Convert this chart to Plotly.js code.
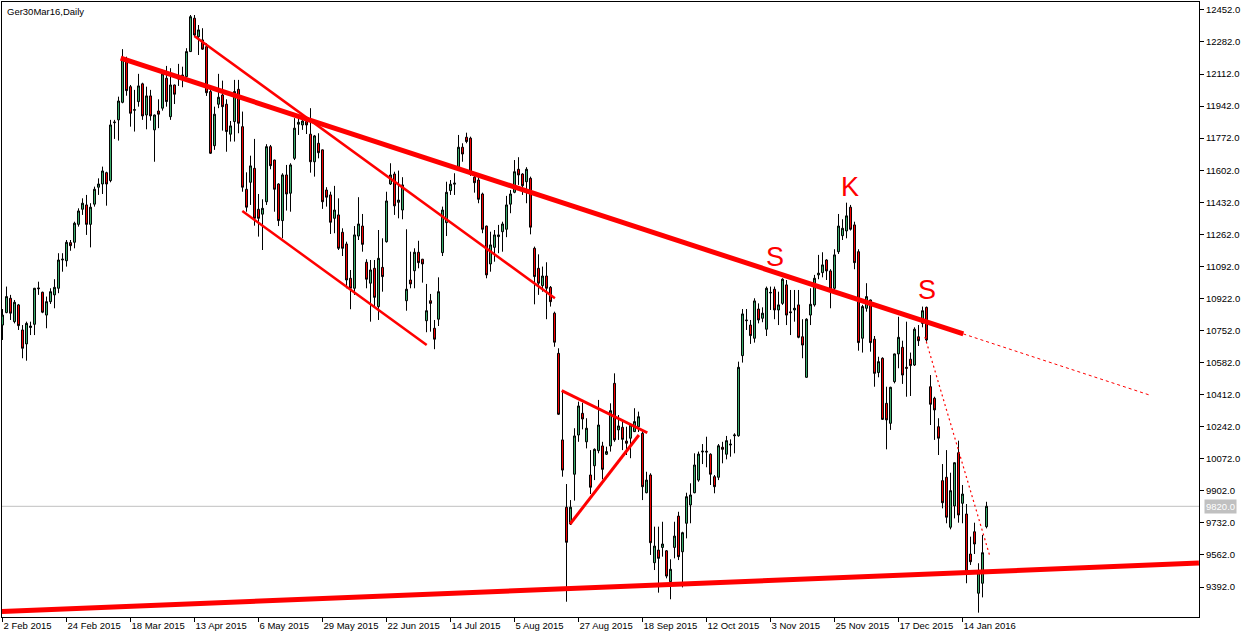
<!DOCTYPE html>
<html>
<head>
<meta charset="utf-8">
<script src="https://cdn.plot.ly/plotly-3.0.1.min.js"></script>
<style>html,body{margin:0;padding:0;background:#fff;}#chart{width:1247px;height:639px;}</style>
</head>
<body>
<div id="chart"></div>
<script>
// Ger30Mar16, Daily — OHLC per trading bar (index 0 = 2 Feb 2015)
const opens = [
10781,10847,10923,10799,10888,10755,10681,10768,10785,10978,
10955,10834,10905,10941,10976,11126,11122,11218,11220,11315,
11395,11418,11315,11422,11512,11529,11589,11547,11854,11869,
11962,12178,12045,11920,11966,12060,11895,11996,11816,11916,
11931,12090,11886,12054,12086,12098,12098,12231,12408,12310,
12293,12257,12019,11732,11952,12001,11952,11793,11860,12031,
11833,11501,11538,11612,11395,11369,11435,11727,11656,11529,
11335,11577,11480,11665,11846,11842,11860,11793,11647,11745,
11710,11497,11471,11347,11365,11273,11211,11029,10976,11253,
11306,11114,11003,11082,10879,11087,11223,11529,11582,11432,
11391,10910,11020,11069,11167,11130,10804,10910,10764,10812,
11165,11324,11494,11528,11618,11724,11777,11772,11565,11550,
11476,11306,11105,11193,11250,11276,11289,11422,11485,11607,
11582,11541,11559,11188,11082,10990,11041,10981,10844,10631,
10172,9815,9726,9990,10198,10313,10162,9986,10035,10115,
10140,10096,10140,10472,10225,10239,10166,10181,10216,10242,
10207,9892,9986,9521,9588,9602,9584,9420,9602,9768,
9579,9730,9827,9892,9959,10108,10112,10096,9977,9974,
10133,10096,10145,10194,10194,10619,10804,10781,10711,10866,
10817,10759,10951,10971,10861,10896,10994,10851,10861,10888,
10719,10504,10834,10888,11047,11059,11126,11068,10976,11170,
11255,11280,11406,11312,11170,10711,10870,10914,10706,10529,
10605,10366,10260,10481,10628,10663,10557,10600,10569,10719,
10790,10875,10454,10393,10242,9956,9974,9709,9822,10104,
9836,9779,9567,9685,9359,9412,9712
];
const highs = [
10866,10985,10941,10914,10893,10781,10799,10799,10978,11011,
10958,10932,10976,11024,11162,11162,11232,11232,11329,11400,
11453,11471,11427,11515,11559,11621,11594,11869,11869,11992,
12244,12204,12054,12028,12113,12066,12045,12028,11897,11978,
12134,12155,12143,12056,12166,12151,12249,12425,12425,12372,
12355,12275,12028,11939,12113,12077,11978,11863,12081,12081,
11913,11591,11679,11768,11476,11448,11740,11736,11658,11533,
11586,11630,11639,11878,11878,11886,11886,11931,11789,11798,
11712,11512,11488,11519,11453,11294,11223,11073,11306,11459,
11370,11130,11126,11126,11285,11241,11488,11639,11594,11600,
11565,11289,11170,11188,11228,11132,10999,10946,10808,11034,
11409,11541,11550,11586,11789,11745,11801,11780,11586,11565,
11483,11308,11276,11285,11312,11329,11466,11497,11656,11671,
11586,11618,11568,11197,11156,11091,11114,10988,10852,10658,
10428,9938,9853,10234,10375,10369,10287,10118,10127,10384,
10162,10136,10366,10525,10304,10278,10242,10260,10340,10322,
10225,10003,9995,9712,9712,9738,9588,9539,9738,9791,
9685,9892,9942,10101,10110,10150,10189,10101,9986,10150,
10162,10193,10175,10207,10587,10866,10866,10808,10923,10896,
10875,10985,10985,10985,10958,11029,11020,10967,10967,10967,
10812,10817,10976,11047,11153,11167,11130,11077,11183,11370,
11342,11430,11418,11329,11183,10888,11003,10916,10723,10613,
10610,10454,10454,10630,10825,10698,10799,10635,10769,10781,
10879,10879,10516,10401,10287,10044,10118,9998,10053,10168,
9933,9832,9659,9733,9518,9668,9844
];
const lows = [
10702,10844,10808,10790,10755,10605,10592,10728,10728,10941,
10844,10764,10893,10870,10950,11064,11091,11175,11188,11303,
11365,11259,11193,11409,11471,11476,11414,11538,11768,11759,
11957,11997,11833,11807,11939,11869,11819,11865,11647,11825,
11918,11939,11869,11953,12049,12042,12090,12229,12310,12213,
12240,11996,11688,11710,11931,11812,11700,11754,11754,11798,
11488,11382,11418,11308,11250,11179,11418,11607,11382,11306,
11241,11388,11382,11656,11789,11816,11794,11589,11568,11665,
11397,11409,11264,11268,11179,11147,10976,10865,10941,11232,
11170,10976,10799,10879,10808,10958,11218,11524,11365,11347,
11342,10857,10976,10976,11082,11006,10743,10746,10653,10776,
11147,11253,11471,11471,11616,11647,11745,11572,11483,11427,
11268,11029,11064,11117,11162,11170,11247,11374,11480,11524,
11471,11427,11262,10891,10941,10958,10812,10879,10666,10304,
9977,9314,9721,9850,10162,10228,10127,9885,9959,10101,
9963,10092,10110,10162,10172,10118,10092,10075,10214,10214,
9853,9889,9562,9482,9362,9553,9438,9327,9544,9535,
9390,9650,9730,9889,9950,10044,10027,9933,9889,9959,
10048,10069,10083,10101,10189,10582,10755,10681,10688,10790,
10796,10723,10861,10812,10781,10888,10781,10728,10799,10711,
10605,10502,10781,10879,11024,11034,11020,10870,10967,11158,
11232,11241,11282,11077,10645,10635,10852,10640,10454,10504,
10278,10122,10225,10472,10552,10469,10401,10405,10564,10670,
10769,10693,10251,10172,10092,9809,9730,9698,9756,9733,
9730,9412,9509,9567,9256,9337,9703
];
const closes = [
10834,10932,10844,10902,10778,10658,10790,10776,10976,10974,
10849,10905,10958,10981,11126,11130,11220,11202,11321,11386,
11427,11315,11406,11501,11529,11598,11529,11842,11857,11969,
12201,12024,11904,11923,12049,11890,11996,11890,11895,11899,
12113,11966,12054,12005,12097,12107,12231,12416,12319,12346,
12244,12013,11692,11899,11989,11939,11807,11837,12019,11851,
11512,11406,11625,11347,11347,11400,11727,11626,11501,11335,
11577,11476,11630,11825,11856,11863,11842,11647,11784,11695,
11435,11459,11326,11391,11188,11188,11020,10976,11259,11317,
11209,11024,11073,10928,11135,11038,11439,11577,11413,11444,
11524,10971,10999,11167,11112,11105,10857,10896,10706,10958,
11391,11485,11528,11533,11724,11688,11754,11581,11536,11448,
11289,11047,11206,11259,11259,11317,11418,11476,11594,11577,
11520,11607,11300,11038,11003,11041,10976,10905,10690,10308,
10012,9629,9815,10193,10352,10283,10234,9921,10122,10251,
10016,10110,10327,10172,10246,10175,10154,10251,10269,10295,
9924,9959,9627,9609,9544,9620,9450,9486,9662,9553,
9680,9871,9880,10039,10097,10112,10108,9990,9924,10141,
10122,10168,10149,10198,10557,10840,10807,10725,10909,10808,
10844,10976,10954,10861,10888,11024,10834,10847,10870,10716,
10675,10812,10891,11029,11056,11100,11068,10971,11153,11306,
11294,11360,11289,11112,10688,10879,10932,10688,10525,10587,
10281,10278,10451,10628,10716,10516,10552,10566,10759,10698,
10857,10702,10361,10331,10181,9839,9762,9903,10051,9774,
9885,9473,9526,9620,9468,9574,9820
];

// axis ticks
const dateTickBars = [0,16,32,48,64,80,96,112,128,144,160,176,192,208,224,240];
const dateTickLabels = ['2 Feb 2015','24 Feb 2015','18 Mar 2015','13 Apr 2015','6 May 2015','29 May 2015',
  '22 Jun 2015','14 Jul 2015','5 Aug 2015','27 Aug 2015','18 Sep 2015','12 Oct 2015',
  '3 Nov 2015','25 Nov 2015','17 Dec 2015','14 Jan 2016'];
const priceTicks = [9392,9562,9732,9902,10072,10242,10412,10582,10752,10922,11092,11262,11432,11602,11772,11942,12112,12282,12452];
const lastPrice = 9820;

// drawn trendlines: [bar1, price1, bar2, price2]
const mainLine = [29.55, 12196, 240.2, 10734];
const mainLineExt = [240.2, 10734, 286.9, 10409];
const channelUpper = [47.95, 12314, 138.1, 10923];
const channelLower = [59.95, 11386, 106.05, 10675];
const triUpper = [139.8, 10433, 161.2, 10210];
const triLower = [141.9, 9726, 159.1, 10198];
const supportLine = [-0.125, 9262, 299.1, 9519];
const dropLine = [230.6, 10718, 246.9, 9551];

// pattern labels: [text, bar, price]
const patternLabels = [['S', 193.1, 11142], ['K', 211.9, 11513], ['S', 231.1, 10967]];

const bars = opens.map((_, i) => i);
const FONT = 'Liberation Sans, Arial, sans-serif';

const trace = {
  type: 'candlestick',
  x: bars, open: opens, high: highs, low: lows, close: closes,
  increasing: {line: {color: '#000000', width: 1}, fillcolor: '#3cb371'},
  decreasing: {line: {color: '#000000', width: 1}, fillcolor: '#ff0000'},
  whiskerwidth: 0,
  hoverinfo: 'skip',
  showlegend: false
};

function seg(a, width, dash) {
  return {type: 'line', xref: 'x', yref: 'y', x0: a[0], y0: a[1], x1: a[2], y1: a[3],
    line: {color: '#ff0000', width: width, dash: dash || 'solid'}, layer: 'above'};
}

const shapes = [
  {type: 'line', xref: 'paper', yref: 'y', x0: 0, x1: 1, y0: lastPrice, y1: lastPrice,
   line: {color: '#c0c0c0', width: 1}, layer: 'below'},
  seg(mainLine, 5),
  seg(mainLineExt, 1, '3px,3px'),
  seg(channelUpper, 2.5),
  seg(channelLower, 2.5),
  seg(triUpper, 3),
  seg(triLower, 3),
  seg(supportLine, 5),
  seg(dropLine, 1.2, '2px,3px')
];

const annotations = patternLabels.map(p => ({
  text: p[0], x: p[1], y: p[2], xref: 'x', yref: 'y', showarrow: false,
  font: {family: FONT, size: 27, color: '#ff0000'}
}));
annotations.push({
  text: 'Ger30Mar16,Daily', xref: 'paper', yref: 'paper', x: 0, y: 1,
  xanchor: 'left', yanchor: 'top', xshift: 3, yshift: -2, showarrow: false,
  font: {family: FONT, size: 9.5, color: '#000'}
});
annotations.push({
  text: lastPrice.toFixed(1), xref: 'paper', yref: 'y', x: 1, y: lastPrice,
  xanchor: 'left', yanchor: 'middle', xshift: 5, showarrow: false,
  bgcolor: '#c0c0c0', borderpad: 1,
  font: {family: FONT, size: 9.5, color: '#ffffff'}
});

const layout = {
  width: 1247, height: 639,
  margin: {l: 2, r: 48, t: 2, b: 22, pad: 0},
  paper_bgcolor: '#ffffff', plot_bgcolor: '#ffffff',
  font: {family: FONT, size: 9.5, color: '#000'},
  showlegend: false,
  xaxis: {
    type: 'linear', range: [-0.125, 299.125], fixedrange: true,
    rangeslider: {visible: false},
    showgrid: false, zeroline: false,
    showline: true, mirror: true, linecolor: '#000', linewidth: 1,
    ticks: 'outside', ticklen: 4, tickcolor: '#000', tickwidth: 1,
    tickmode: 'array', tickvals: dateTickBars, ticktext: dateTickLabels,
    ticklabelposition: 'outside right',
    tickfont: {family: FONT, size: 9.5, color: '#000'},
    automargin: false
  },
  yaxis: {
    side: 'right', range: [9233, 12494], fixedrange: true,
    showgrid: false, zeroline: false,
    showline: true, mirror: true, linecolor: '#000', linewidth: 1,
    ticks: 'outside', ticklen: 4, tickcolor: '#000', tickwidth: 1,
    tickmode: 'array', tickvals: priceTicks, ticktext: priceTicks.map(v => v.toFixed(1)),
    tickfont: {family: FONT, size: 9.5, color: '#000'},
    automargin: false
  },
  shapes: shapes,
  annotations: annotations
};

Plotly.newPlot('chart', [trace], layout, {displayModeBar: false, staticPlot: true});
</script>
</body>
</html>
